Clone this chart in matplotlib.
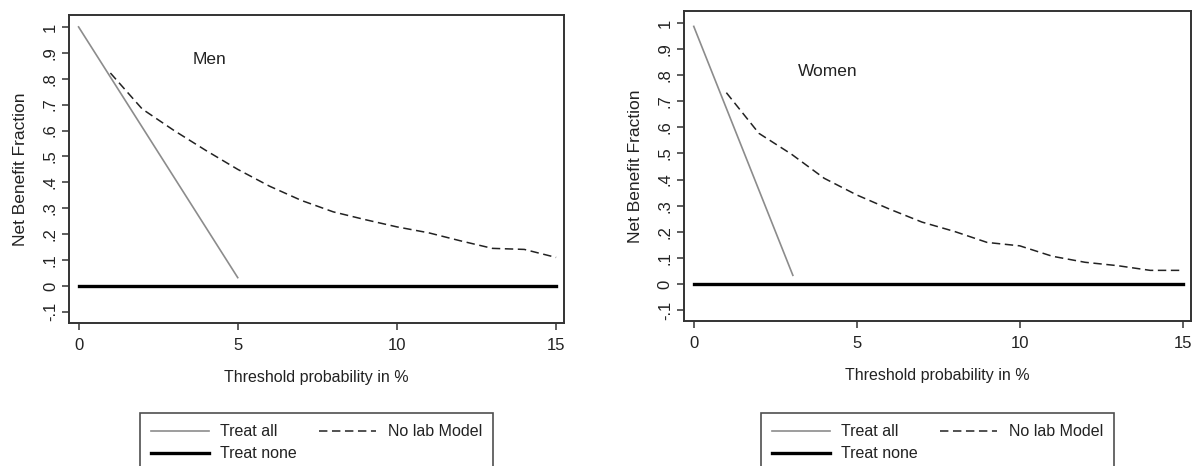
#!/usr/bin/env python3
"""Decision curves (net benefit) for men and women, no-lab model."""
import matplotlib
matplotlib.use("Agg")
import matplotlib.pyplot as plt
from matplotlib.ticker import FixedLocator, FixedFormatter

plt.rcParams["font.family"] = ["Liberation Sans", "DejaVu Sans"]

# threshold probability in %
x_model = [1, 2, 3, 4, 5, 6, 7, 8, 9, 10, 11, 12, 13, 14, 15]
x_none = [0, 15]

# men
men_treat_all_x = [0, 5]
men_treat_all_y = [1.0, 0.032]
men_model_y = [0.822, 0.683, 0.600, 0.523, 0.450, 0.385, 0.330, 0.286, 0.256,
               0.228, 0.205, 0.174, 0.145, 0.141, 0.110]

# women
women_treat_all_x = [0, 3.04]
women_treat_all_y = [0.987, 0.033]
women_model_y = [0.733, 0.577, 0.497, 0.405, 0.341, 0.287, 0.237, 0.201, 0.159,
                 0.146, 0.106, 0.083, 0.070, 0.052, 0.052]

treat_none_y = [0, 0]

y_ticks = [-0.1, 0, 0.1, 0.2, 0.3, 0.4, 0.5, 0.6, 0.7, 0.8, 0.9, 1.0]
y_tick_labels = ["-.1", "0", ".1", ".2", ".3", ".4", ".5", ".6", ".7", ".8", ".9", "1"]
x_ticks = [0, 5, 10, 15]


def draw_panel(ax, title, tax, tay, model_y, title_xy):
    h_all, = ax.plot(tax, tay, color="#8c8c8c", lw=1.2, label="Treat all")
    h_none, = ax.plot(x_none, treat_none_y, color="black", lw=2.4, label="Treat none")
    h_model, = ax.plot(x_model, model_y, color="#222222", lw=1.1,
                       dashes=(5.5, 3), label="No lab Model")
    ax.text(title_xy[0], title_xy[1], title, fontsize=12.5, color="#222222",
            ha="center", va="center")
    ax.set_xlim(-0.3, 15.25)
    ax.set_ylim(-0.142, 1.046)
    ax.set_xticks(x_ticks)
    ax.yaxis.set_major_locator(FixedLocator(y_ticks))
    ax.yaxis.set_major_formatter(FixedFormatter(y_tick_labels))
    for lbl in ax.get_yticklabels():
        lbl.set_rotation(90)
        lbl.set_va("center")
    ax.tick_params(axis="both", direction="out", length=5, width=1.1,
                   color="#333333", labelsize=12, labelcolor="#222222")
    ax.tick_params(axis="x", pad=6)
    ax.tick_params(axis="y", pad=3)
    for sp in ax.spines.values():
        sp.set_color("#333333")
        sp.set_linewidth(1.4)
    ax.set_xlabel("Threshold probability in %", fontsize=11.5, color="#222222",
                  labelpad=12)
    ax.set_ylabel("Net Benefit Fraction", fontsize=12.5, color="#222222",
                  labelpad=11)
    return [h_all, h_none, h_model]


def main() -> None:
    fig = plt.figure(figsize=(11.92, 4.66), dpi=100)
    ax1 = fig.add_axes([0.0579, 0.3075, 0.4153, 0.6603])
    ax2 = fig.add_axes([0.5738, 0.3112, 0.4253, 0.6652])

    handles = draw_panel(ax1, "Men", men_treat_all_x, men_treat_all_y,
                         men_model_y, (4.1, 0.876))
    draw_panel(ax2, "Women", women_treat_all_x, women_treat_all_y,
               women_model_y, (4.1, 0.816))

    for ax in (ax1, ax2):
        pos = ax.get_position()
        cx = pos.x0 + pos.width / 2
        leg = fig.legend(handles=handles, loc="upper center",
                         bbox_to_anchor=(cx, 1 - 413 / 466), ncol=2,
                         fontsize=11.5, frameon=True, fancybox=False,
                         handlelength=3.6, handletextpad=0.7,
                         columnspacing=1.4, borderpad=0.7, labelspacing=0.45,
                         borderaxespad=0)
        leg.get_frame().set_edgecolor("#222222")
        leg.get_frame().set_linewidth(1.2)
        for t in leg.get_texts():
            t.set_color("#222222")

    fig.savefig("out.png", dpi=100)
    plt.close(fig)


if __name__ == "__main__":
    main()
